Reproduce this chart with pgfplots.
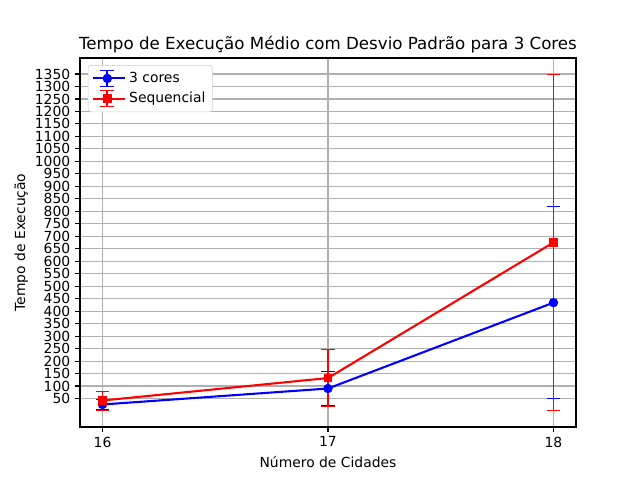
\documentclass[border=0pt]{standalone}
\usepackage{fontspec}
\setmainfont{DejaVu Sans}
\usepackage{pgfplots}
\pgfplotsset{compat=1.18}
\definecolor{gridgray}{HTML}{B0B0B0}
\definecolor{legframe}{HTML}{CCCCCC}
\begin{document}
\begin{tikzpicture}
\begin{axis}[
    scale only axis,
    width=357.12pt, height=265.68pt,
    xmin=15.9, xmax=18.1,
    ymin=-64.2, ymax=1414.2,
    xtick={16,17,18},
    ytick={50,100,...,1350},
    xtick pos=left, ytick pos=left,
    grid=major,
    grid style={gridgray, line width=0.8pt},
    axis line style={line width=0.8pt},
    tick align=outside,
    major tick length=3.5pt,
    tick style={black, line width=0.8pt},
    tick label style={font=\fontsize{10}{12}\selectfont},
    /pgf/number format/assume math mode=true,
    /pgf/number format/1000 sep={},
    title={Tempo de Execução Médio com Desvio Padrão para 3 Cores},
    title style={font=\fontsize{12}{14.4}\selectfont, yshift=-6pt},
    xlabel={Número de Cidades},
    ylabel={Tempo de Execução},
    label style={font=\fontsize{10}{12}\selectfont},
    ylabel style={yshift=-2pt},
    legend cell align=left,
    legend style={at={(0.016,0.981)}, anchor=north west, draw=legframe,
        rounded corners=2pt, fill=white, row sep=1.5pt,
        inner ysep=3pt,
        font=\fontsize{10}{12}\selectfont},
    legend image code/.code={
        \draw[#1,mark=none] (0pt,0pt) -- (20pt,0pt);
        \draw[#1,mark=none,line width=1.2pt] (10pt,-5.8pt) -- (10pt,5.8pt)
            (5pt,5.8pt) -- (15pt,5.8pt) (5pt,-5.8pt) -- (15pt,-5.8pt);
        \draw[#1] plot coordinates {(10pt,0pt)};
        \path (0pt,0pt) -- (23pt,0pt);
    },
]

% 3 cores
\addplot[blue, line width=1.5pt, mark=*, mark size=2.6pt,
    error bars/.cd, y dir=both, y explicit,
    error bar style={line width=1.2pt},
    error mark options={rotate=90, mark size=5pt}]
coordinates {
    (16, 26) +- (0, 20)
    (17, 90) +- (0, 68)
    (18, 434) +- (0, 385)
};
\addlegendentry{3 cores}

% sequencial
\addplot[red, line width=1.5pt, mark=square*, mark size=2.3pt,
    error bars/.cd, y dir=both, y explicit,
    error bar style={line width=1.2pt},
    error mark options={rotate=90, mark size=5pt}]
coordinates {
    (16, 42) +- (0, 38)
    (17, 132) +- (0, 114)
    (18, 675) +- (0, 672)
};
\addlegendentry{Sequencial}

\end{axis}
\path[use as bounding box] ([xshift=-57.6pt,yshift=-38.16pt]current axis.south west)
    rectangle ([xshift=46.08pt,yshift=41.76pt]current axis.north east);
\end{tikzpicture}
\end{document}
